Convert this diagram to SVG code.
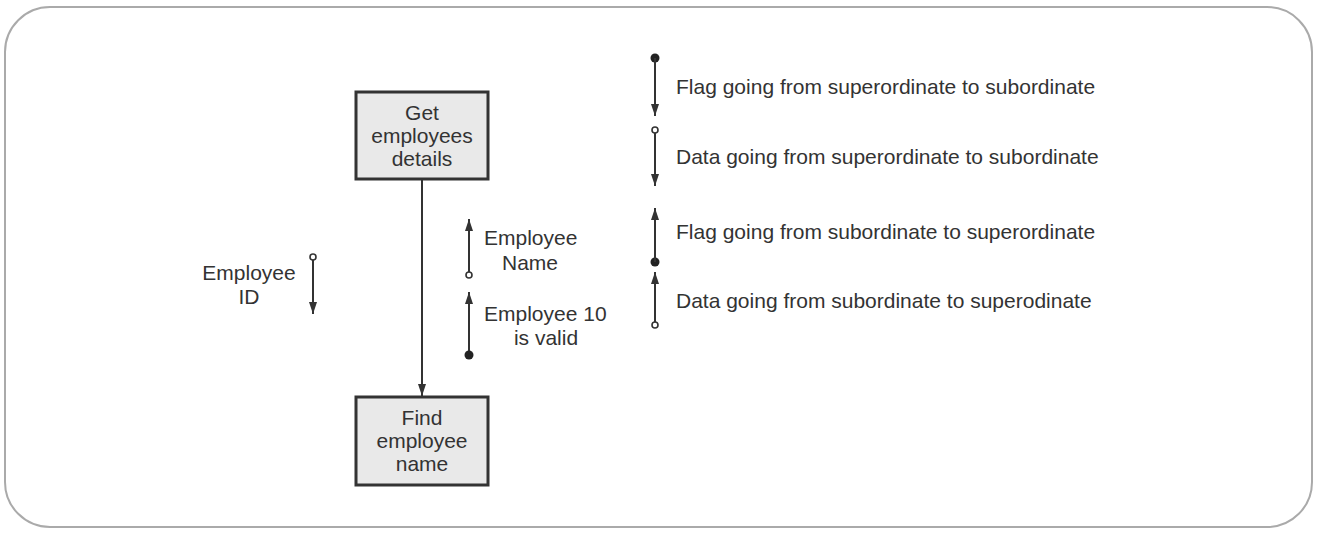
<svg xmlns="http://www.w3.org/2000/svg" width="1317" height="534" viewBox="0 0 1317 534">
<style>
text{font-family:"Liberation Sans",Arial,sans-serif;font-size:21px;fill:#333}
.c{text-anchor:middle}
.box{fill:#e9e9e9;stroke:#333;stroke-width:3}
.ln{stroke:#333;stroke-width:2;fill:none}
.open{fill:#fff;stroke:#333;stroke-width:1.6}
.dot{fill:#222}
</style>
<defs>
<marker id="ah" viewBox="0 0 12 10" refX="12" refY="5" markerWidth="12" markerHeight="10" markerUnits="userSpaceOnUse" orient="auto">
<path d="M0,1 L12,5 L0,9 Z" fill="#333"/>
</marker>
</defs>
<rect x="5" y="7" width="1307" height="520" rx="45" ry="45" fill="#fff" stroke="#aaa" stroke-width="2"/>
<g id="connectors">
<line class="ln" x1="422" y1="180" x2="422" y2="396" marker-end="url(#ah)"/>
</g>
<g id="get-details">
<rect class="box" x="356" y="92" width="132" height="87"/>
<text class="c" x="422" y="120">Get</text>
<text class="c" x="422" y="143">employees</text>
<text class="c" x="422" y="166">details</text>
</g>
<g id="find-name">
<rect class="box" x="356" y="397" width="132" height="88"/>
<text class="c" x="422" y="425">Find</text>
<text class="c" x="422" y="448">employee</text>
<text class="c" x="422" y="471">name</text>
</g>
<g id="employee-id">
<line class="ln" x1="313" y1="260" x2="313" y2="314" marker-end="url(#ah)"/>
<circle class="open" cx="313" cy="257" r="3"/>
<text class="c" x="249" y="280">Employee</text>
<text class="c" x="249" y="304">ID</text>
</g>
<g id="employee-name">
<line class="ln" x1="469" y1="272" x2="469" y2="219" marker-end="url(#ah)"/>
<circle class="open" cx="469" cy="275" r="3"/>
<text x="484" y="245">Employee</text>
<text class="c" x="530" y="270">Name</text>
</g>
<g id="employee-valid">
<line class="ln" x1="469" y1="352" x2="469" y2="292" marker-end="url(#ah)"/>
<circle class="dot" cx="469" cy="355" r="4.5"/>
<text x="484" y="321">Employee 10</text>
<text class="c" x="546" y="345">is valid</text>
</g>
<g id="legend-flag-down">
<circle class="dot" cx="655" cy="58" r="4.5"/>
<line class="ln" x1="655" y1="58" x2="655" y2="116" marker-end="url(#ah)"/>
<text x="676" y="94">Flag going from superordinate to subordinate</text>
</g>
<g id="legend-data-down">
<circle class="open" cx="655" cy="130" r="3"/>
<line class="ln" x1="655" y1="133" x2="655" y2="186" marker-end="url(#ah)"/>
<text x="676" y="164">Data going from superordinate to subordinate</text>
</g>
<g id="legend-flag-up">
<circle class="dot" cx="655" cy="262" r="4.5"/>
<line class="ln" x1="655" y1="262" x2="655" y2="208" marker-end="url(#ah)"/>
<text x="676" y="239">Flag going from subordinate to superordinate</text>
</g>
<g id="legend-data-up">
<circle class="open" cx="655" cy="325" r="3"/>
<line class="ln" x1="655" y1="322" x2="655" y2="272" marker-end="url(#ah)"/>
<text x="676" y="308">Data going from subordinate to superodinate</text>
</g>
</svg>
